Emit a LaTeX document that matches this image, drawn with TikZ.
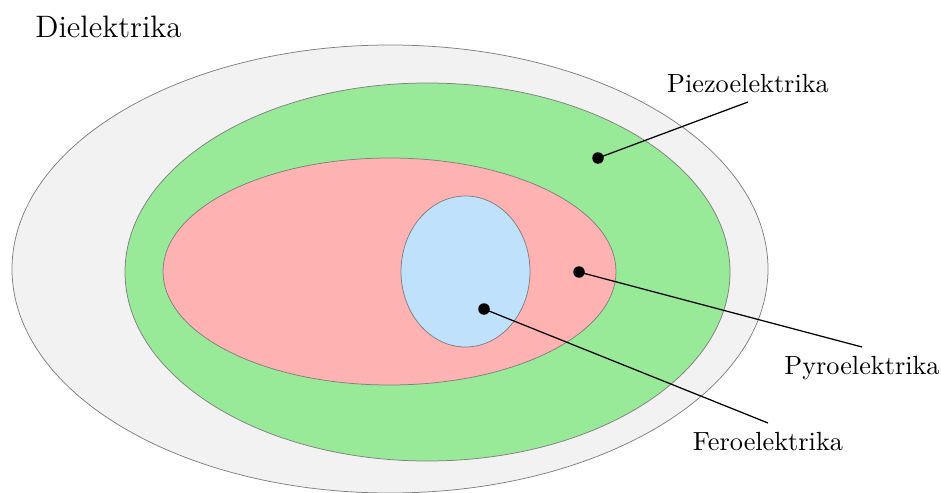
\documentclass[tikz,border=0pt]{standalone}
\usetikzlibrary{calc}
\definecolor{outerfill}{RGB}{242,242,242}
\definecolor{piezofill}{RGB}{152,234,152}
\definecolor{pyrofill}{RGB}{255,178,178}
\definecolor{ferofill}{RGB}{192,225,252}
\tikzset{
  region/.style={draw=black!50, line width=0.3pt},
  lead/.style={draw=black, line width=0.5pt},
  dotmark/.style={circle, fill=black, inner sep=0pt, minimum size=4.6pt},
  lbl/.style={inner sep=3.5pt, font=\fontsize{10.5}{12.6}\selectfont},
}
\begin{document}
\begin{tikzpicture}[x=0.4pt,y=-0.4pt]
\useasboundingbox (0,0) rectangle (941,493);
\begin{scope}
\clip (0,0) rectangle (941,493);
\fill[outerfill, region] (390,269) ellipse [x radius=378, y radius=224];
\end{scope}
\fill[piezofill, region] (427.5,272) ellipse [x radius=302.5, y radius=189];
\fill[pyrofill, region] (389.5,271.5) ellipse [x radius=226.5, y radius=113.5];
\fill[ferofill, region] (465.5,271.5) ellipse [x radius=64.5, y radius=75.5];

\node[font=\fontsize{12.4}{15}\selectfont, anchor=center] (diel) at (108.5,26.5) {Dielektrika};

\node[dotmark] (dpiezo) at (598,158) {};
\node[dotmark] (dpyro) at (579,272) {};
\node[dotmark] (dfero) at (484,309) {};

\node[lbl, anchor=south] (piezo) at (748,102) {Piezoelektrika};
\node[lbl, anchor=north] (pyro) at (862,347) {Pyroelektrika};
\node[lbl, anchor=north] (fero) at (768,423) {Feroelektrika};

\draw[lead] (dpiezo.center) -- (piezo.south);
\draw[lead] (dpyro.center) -- (pyro.north);
\draw[lead] (dfero.center) -- (fero.north);
\end{tikzpicture}
\end{document}
